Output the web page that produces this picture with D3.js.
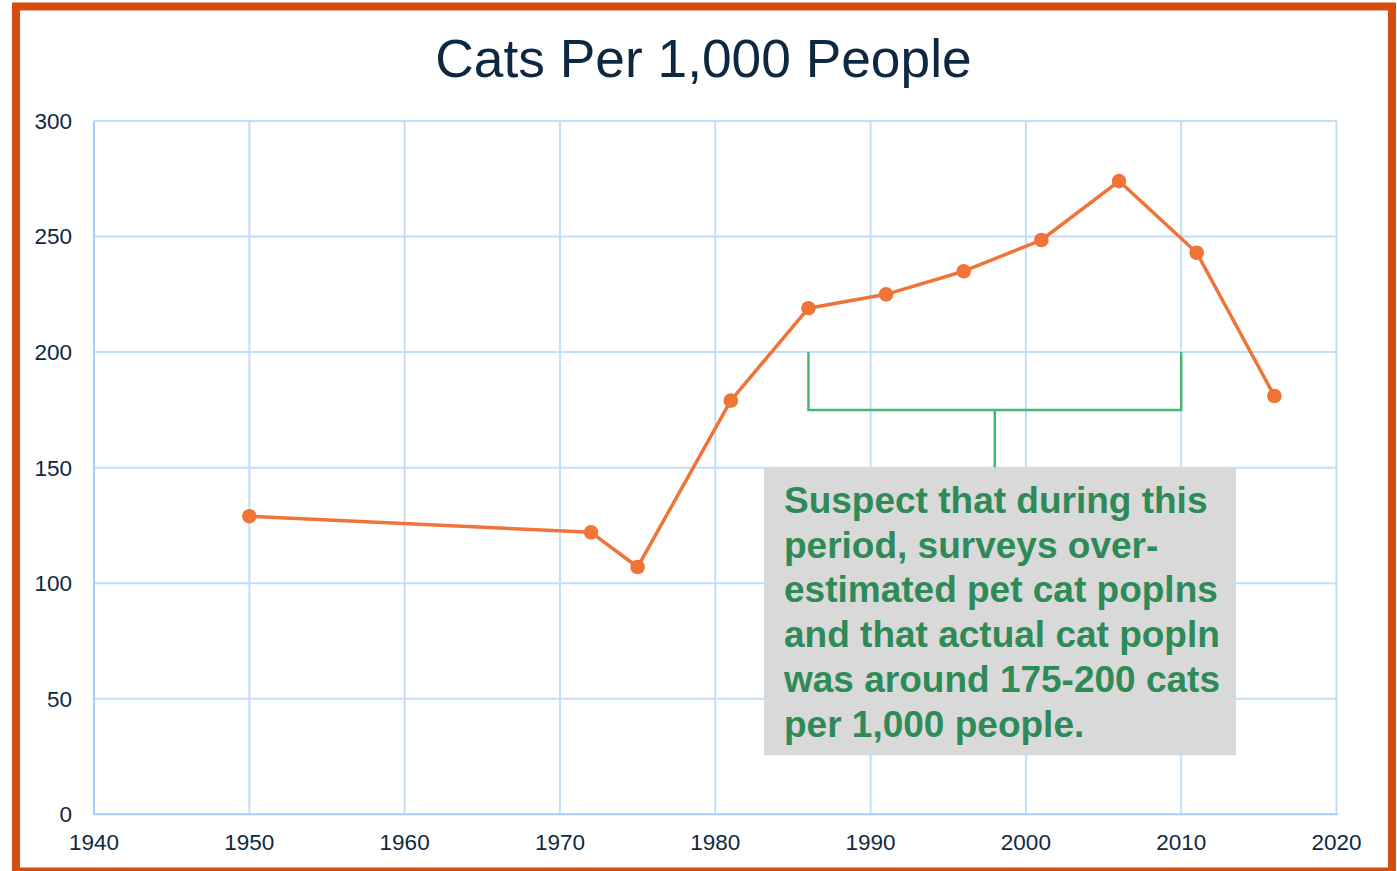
<!DOCTYPE html>
<html>
<head>
<meta charset="utf-8">
<script src="https://cdn.jsdelivr.net/npm/d3@7"></script>
<style>
  html, body { margin: 0; padding: 0; background: #fff; }
  svg { display: block; }
  text { font-family: "Liberation Sans", Arial, sans-serif; }
</style>
</head>
<body>
<svg id="chart" width="1397" height="871"></svg>
<script>
// ---- data ----
const title = "Cats Per 1,000 People";
const years = [1950, 1972, 1975, 1981, 1986, 1991, 1996, 2001, 2006, 2011, 2016];
const catsPer1000 = [129, 122, 107, 179, 219, 225, 235, 248.5, 274, 243, 181];
const xTicks = [1940, 1950, 1960, 1970, 1980, 1990, 2000, 2010, 2020];
const yTicks = [0, 50, 100, 150, 200, 250, 300];
const noteLines = [
  "Suspect that during this",
  "period, surveys over-",
  "estimated pet cat poplns",
  "and that actual cat popln",
  "was around 175-200 cats",
  "per 1,000 people."
];
// suspected period and range (data units)
const periodYears = [1986, 2010];
const suspectRange = [175, 200];

// ---- layout ----
const svg = d3.select("#chart");
const x = d3.scaleLinear().domain([1940, 2020]).range([94, 1336.5]);
const y = d3.scaleLinear().domain([0, 300]).range([814.3, 121]);

const gridColor = "#C2DEFA";
const axisColor = "#A3CEF8";
const textColor = "#0E2841";
const lineColor = "#F07438";
const green = "#45B874";
const noteColor = "#2E8B57";

// border
svg.append("rect")
  .attr("x", 16).attr("y", 6.5).attr("width", 1376).attr("height", 865)
  .attr("fill", "none").attr("stroke", "#D44D10").attr("stroke-width", 8);

// title
svg.append("text")
  .attr("x", 703.5).attr("y", 77)
  .attr("text-anchor", "middle")
  .attr("font-size", 53.3)
  .attr("fill", textColor)
  .text(title);

// gridlines
const grid = svg.append("g");
grid.selectAll("line.h").data(yTicks.filter(d => d > 0)).join("line")
  .attr("x1", x(1940)).attr("x2", x(2020))
  .attr("y1", d => y(d)).attr("y2", d => y(d))
  .attr("stroke", gridColor).attr("stroke-width", 2);
grid.selectAll("line.v").data(xTicks.filter(d => d > 1940)).join("line")
  .attr("x1", d => x(d)).attr("x2", d => x(d))
  .attr("y1", y(0)).attr("y2", y(300))
  .attr("stroke", gridColor).attr("stroke-width", 2);

// axes lines
svg.append("line").attr("x1", x(1940)).attr("x2", x(1940)).attr("y1", y(0)).attr("y2", y(300))
  .attr("stroke", axisColor).attr("stroke-width", 2);
svg.append("line").attr("x1", x(1940) - 1).attr("x2", x(2020) + 1).attr("y1", y(0)).attr("y2", y(0))
  .attr("stroke", axisColor).attr("stroke-width", 2);

// y tick labels
svg.append("g").selectAll("text").data(yTicks).join("text")
  .attr("x", 72).attr("y", d => y(d))
  .attr("dy", "0.35em")
  .attr("text-anchor", "end")
  .attr("font-size", 22.5)
  .attr("fill", textColor)
  .text(d => d);

// x tick labels
svg.append("g").selectAll("text").data(xTicks).join("text")
  .attr("x", d => x(d)).attr("y", 842)
  .attr("dy", "0.35em")
  .attr("text-anchor", "middle")
  .attr("font-size", 22.5)
  .attr("fill", textColor)
  .text(d => d);

// annotation bracket
const midYear = (periodYears[0] + periodYears[1]) / 2;
const br = svg.append("g").attr("fill", "none").attr("stroke", green).attr("stroke-width", 2.5);
br.append("path")
  .attr("d", d3.line()([
    [x(periodYears[0]), y(suspectRange[1])],
    [x(periodYears[0]), y(suspectRange[0])],
    [x(periodYears[1]), y(suspectRange[0])],
    [x(periodYears[1]), y(suspectRange[1])]
  ]));
br.append("line")
  .attr("x1", x(midYear)).attr("x2", x(midYear))
  .attr("y1", y(suspectRange[0])).attr("y2", y(150));

// data line
const pts = years.map((yr, i) => [yr, catsPer1000[i]]);
svg.append("path")
  .datum(pts)
  .attr("fill", "none")
  .attr("stroke", lineColor)
  .attr("stroke-width", 3.5)
  .attr("stroke-linejoin", "round")
  .attr("d", d3.line().x(d => x(d[0])).y(d => y(d[1])));
svg.append("g").selectAll("circle").data(pts).join("circle")
  .attr("cx", d => x(d[0])).attr("cy", d => y(d[1]))
  .attr("r", 7.3).attr("fill", lineColor);

// annotation box
svg.append("rect")
  .attr("x", 764).attr("y", 467.3).attr("width", 472).attr("height", 288)
  .attr("fill", "#D9D9D9");
svg.append("g").selectAll("text").data(noteLines).join("text")
  .attr("x", 784)
  .attr("y", (d, i) => 512.7 + i * 44.8)
  .attr("font-size", 37)
  .attr("font-weight", "bold")
  .attr("fill", noteColor)
  .text(d => d);
</script>
</body>
</html>
